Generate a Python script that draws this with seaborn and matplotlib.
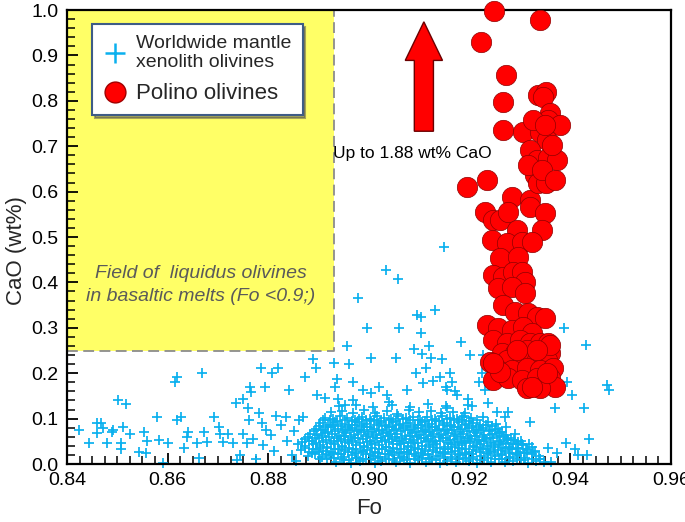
import numpy as np
import pandas as pd
import matplotlib
matplotlib.use("Agg")
import matplotlib.pyplot as plt
from matplotlib.lines import Line2D
from matplotlib.patches import Rectangle
from matplotlib.ticker import MultipleLocator, FormatStrFormatter
import seaborn as sns

# ---------------- data ----------------
xeno_sparse_x = [0.8424, 0.8444, 0.8460, 0.8468, 0.8460, 0.8472, 0.8479, 0.8489, 0.8491, 0.8501,
                 0.8517, 0.8507, 0.8507, 0.8511, 0.8525, 0.8543, 0.8553, 0.8557, 0.8559, 0.8579,
                 0.8583, 0.8591, 0.8601, 0.8615, 0.8619, 0.8619, 0.8627, 0.8632, 0.8638, 0.8640,
                 0.8658, 0.8662, 0.8668, 0.8672, 0.8678, 0.8692, 0.8702, 0.8704, 0.8710, 0.8720,
                 0.8730, 0.8736, 0.8750, 0.8750, 0.8760, 0.8764, 0.8766, 0.8762, 0.8758, 0.8738,
                 0.8744, 0.8785, 0.8807, 0.8819, 0.8782, 0.8793, 0.8835, 0.8841, 0.8869, 0.8873,
                 0.8889, 0.8895, 0.8897, 0.8913, 0.8931, 0.8933, 0.8937, 0.8939, 0.8952, 0.8956,
                 0.8960, 0.8968, 0.8968, 0.8978, 0.8988, 0.8996, 0.9004, 0.9004, 0.9020, 0.9034,
                 0.9036, 0.9040, 0.9054, 0.9058, 0.9060, 0.9076, 0.9089, 0.9093, 0.9095, 0.9103,
                 0.9103, 0.9105, 0.9107, 0.9113, 0.9119, 0.9123, 0.9127, 0.9131, 0.9141, 0.9145,
                 0.9149, 0.9153, 0.9155, 0.9155, 0.9161, 0.9165, 0.9171, 0.9175, 0.9183, 0.9185,
                 0.9197, 0.9197, 0.9201, 0.9205, 0.9219, 0.9225, 0.9227, 0.9231, 0.9237, 0.9254,
                 0.9260, 0.9270, 0.9276, 0.9276, 0.9286, 0.9296, 0.9304, 0.9314, 0.9320, 0.9324,
                 0.9340, 0.9356, 0.9362, 0.9370, 0.9374, 0.9388, 0.9392, 0.9394, 0.9404, 0.9410,
                 0.9416, 0.9427, 0.9431, 0.9433, 0.9437, 0.9473, 0.9477,
                 0.8775, 0.8790, 0.8805, 0.8812, 0.8826, 0.8838, 0.8847, 0.8851, 0.8787, 0.8770,
                 0.8815, 0.8795, 0.8860, 0.8855]
xeno_sparse_y = [0.075, 0.046, 0.090, 0.090, 0.068, 0.079, 0.046, 0.070, 0.075, 0.141,
                 0.132, 0.046, 0.033, 0.081, 0.066, 0.026, 0.070, 0.024, 0.051, 0.104,
                 0.053, 0.002, 0.046, 0.181, 0.192, 0.097, 0.104, 0.035, 0.059, 0.070,
                 0.046, 0.013, 0.200, 0.070, 0.048, 0.104, 0.081, 0.066, 0.048, 0.066,
                 0.046, 0.134, 0.143, 0.066, 0.123, 0.170, 0.159, 0.097, 0.046, 0.009,
                 0.020, 0.211, 0.200, 0.211, 0.112, 0.170, 0.104, 0.163, 0.104, 0.192,
                 0.231, 0.211, 0.152, 0.145, 0.222, 0.170, 0.187, 0.143, 0.130, 0.260,
                 0.220, 0.181, 0.141, 0.366, 0.163, 0.300, 0.233, 0.156, 0.170, 0.427,
                 0.152, 0.137, 0.233, 0.407, 0.300, 0.163, 0.253, 0.200, 0.328, 0.324,
                 0.289, 0.242, 0.178, 0.211, 0.260, 0.233, 0.183, 0.339, 0.192, 0.231,
                 0.478, 0.170, 0.163, 0.123, 0.200, 0.181, 0.161, 0.152, 0.269, 0.104,
                 0.143, 0.130, 0.240, 0.128, 0.181, 0.200, 0.240, 0.163, 0.134, 0.115,
                 0.070, 0.104, 0.115, 0.053, 0.044, 0.024, 0.044, 0.024, 0.093, 0.037,
                 0.011, 0.035, 0.004, 0.123, 0.024, 0.300, 0.046, 0.181, 0.152, 0.033,
                 0.020, 0.123, 0.262, 0.020, 0.055, 0.174, 0.163,
                 0.012, 0.041, 0.063, 0.028, 0.085, 0.050, 0.019, 0.072, 0.090, 0.055,
                 0.105, 0.075, 0.098, 0.006]

xeno_core_x = [
    0.8935, 0.8951, 0.8964, 0.8982, 0.8995, 0.9011, 0.9024, 0.9040, 0.9053, 0.9069, 0.9082, 0.9097, 0.9113, 0.9126, 0.9141,
    0.9155, 0.9172, 0.9186, 0.9199, 0.9214, 0.9229, 0.9243, 0.9258, 0.9271, 0.9287, 0.9302, 0.9316, 0.9331, 0.9347,
    0.8878, 0.8893, 0.8907, 0.8921, 0.8938, 0.8950, 0.8967, 0.8979, 0.8994, 0.9008, 0.9022, 0.9037, 0.9050, 0.9066, 0.9079,
    0.9093, 0.9108, 0.9121, 0.9137, 0.9150, 0.9164, 0.9180, 0.9193, 0.9207, 0.9222, 0.9236, 0.9251, 0.9264, 0.9280, 0.9294,
    0.9309, 0.9323, 0.9338,
    0.8865, 0.8881, 0.8896, 0.8909, 0.8924, 0.8940, 0.8953, 0.8968, 0.8984, 0.8997, 0.9012, 0.9026, 0.9041, 0.9055, 0.9070,
    0.9084, 0.9098, 0.9112, 0.9128, 0.9141, 0.9156, 0.9170, 0.9185, 0.9198, 0.9213, 0.9227, 0.9241, 0.9256, 0.9270, 0.9285,
    0.9299, 0.9314, 0.9330,
    0.8858, 0.8873, 0.8889, 0.8902, 0.8917, 0.8931, 0.8946, 0.8961, 0.8975, 0.8990, 0.9004, 0.9019, 0.9033, 0.9047, 0.9062,
    0.9077, 0.9090, 0.9105, 0.9119, 0.9134, 0.9148, 0.9163, 0.9177, 0.9191, 0.9206, 0.9220, 0.9235, 0.9249, 0.9263, 0.9278,
    0.9292, 0.9305, 0.9318,
    0.8872, 0.8887, 0.8901, 0.8915, 0.8930, 0.8944, 0.8959, 0.8973, 0.8988, 0.9002, 0.9016, 0.9031, 0.9045, 0.9060, 0.9074,
    0.9088, 0.9103, 0.9117, 0.9131, 0.9146, 0.9160, 0.9175, 0.9189, 0.9203, 0.9218, 0.9232, 0.9246, 0.9261, 0.9275, 0.9289,
    0.9302,
    0.8883, 0.8897, 0.8912, 0.8926, 0.8941, 0.8955, 0.8970, 0.8984, 0.8998, 0.9013, 0.9027, 0.9042, 0.9056, 0.9071, 0.9085,
    0.9099, 0.9114, 0.9128, 0.9143, 0.9157, 0.9171, 0.9186, 0.9200, 0.9215, 0.9229, 0.9244, 0.9258, 0.9272, 0.9290,
    0.8895, 0.8909, 0.8924, 0.8938, 0.8953, 0.8967, 0.8981, 0.8996, 0.9010, 0.9025, 0.9039, 0.9053, 0.9068, 0.9082, 0.9097,
    0.9111, 0.9126, 0.9140, 0.9154, 0.9169, 0.9183, 0.9198, 0.9212, 0.9226, 0.9241, 0.9256, 0.9272,
    0.8903, 0.8918, 0.8932, 0.8947, 0.8961, 0.8976, 0.8990, 0.9004, 0.9019, 0.9033, 0.9048, 0.9062, 0.9077, 0.9091, 0.9105,
    0.9120, 0.9134, 0.9149, 0.9163, 0.9178, 0.9192, 0.9207, 0.9221, 0.9236, 0.9252,
    0.8912, 0.8928, 0.8943, 0.8957, 0.8972, 0.8986, 0.9001, 0.9015, 0.9029, 0.9044, 0.9058, 0.9073, 0.9087, 0.9102, 0.9116,
    0.9131, 0.9145, 0.9160, 0.9174, 0.9188, 0.9203, 0.9226,
    0.8925, 0.8947, 0.8968, 0.8991, 0.9012, 0.9035, 0.9056, 0.9079, 0.9100, 0.9123, 0.9144, 0.9167, 0.9190,
    0.8940, 0.8975, 0.9008, 0.9046, 0.9081, 0.9117, 0.9152]
xeno_core_y = [
    0.004, 0.009, 0.003, 0.007, 0.011, 0.002, 0.006, 0.010, 0.004, 0.008, 0.003, 0.009, 0.005, 0.011, 0.002,
    0.007, 0.004, 0.010, 0.006, 0.003, 0.008, 0.005, 0.010, 0.004, 0.007, 0.009, 0.003, 0.006, 0.005,
    0.017, 0.021, 0.015, 0.019, 0.023, 0.016, 0.020, 0.014, 0.022, 0.018, 0.016, 0.021, 0.019, 0.015, 0.023,
    0.017, 0.020, 0.014, 0.018, 0.022, 0.016, 0.019, 0.021, 0.015, 0.018, 0.023, 0.017, 0.020, 0.016, 0.019,
    0.014, 0.021, 0.018,
    0.031, 0.027, 0.033, 0.029, 0.026, 0.032, 0.030, 0.034, 0.028, 0.031, 0.026, 0.033, 0.029, 0.032, 0.027,
    0.030, 0.034, 0.028, 0.031, 0.026, 0.033, 0.029, 0.032, 0.027, 0.030, 0.034, 0.028, 0.031, 0.029, 0.033,
    0.027, 0.030, 0.028,
    0.043, 0.039, 0.045, 0.041, 0.038, 0.044, 0.040, 0.046, 0.042, 0.039, 0.045, 0.041, 0.038, 0.044, 0.043,
    0.039, 0.046, 0.040, 0.042, 0.045, 0.038, 0.043, 0.041, 0.046, 0.039, 0.044, 0.040, 0.042, 0.045, 0.038,
    0.043, 0.041, 0.044,
    0.054, 0.051, 0.057, 0.053, 0.050, 0.056, 0.052, 0.058, 0.054, 0.051, 0.057, 0.053, 0.055, 0.050, 0.056,
    0.052, 0.058, 0.054, 0.051, 0.057, 0.053, 0.055, 0.050, 0.056, 0.052, 0.054, 0.057, 0.051, 0.055, 0.053,
    0.050,
    0.066, 0.063, 0.069, 0.065, 0.062, 0.068, 0.064, 0.070, 0.066, 0.063, 0.069, 0.065, 0.067, 0.062, 0.068,
    0.064, 0.070, 0.066, 0.063, 0.069, 0.065, 0.067, 0.062, 0.068, 0.064, 0.066, 0.069, 0.063, 0.065,
    0.078, 0.075, 0.081, 0.077, 0.074, 0.080, 0.076, 0.082, 0.078, 0.075, 0.081, 0.077, 0.079, 0.074, 0.080,
    0.076, 0.082, 0.078, 0.075, 0.081, 0.077, 0.079, 0.074, 0.080, 0.076, 0.078, 0.081,
    0.090, 0.087, 0.093, 0.089, 0.086, 0.092, 0.088, 0.094, 0.090, 0.087, 0.093, 0.089, 0.091, 0.086, 0.092,
    0.088, 0.094, 0.090, 0.087, 0.093, 0.089, 0.091, 0.086, 0.092, 0.088,
    0.102, 0.099, 0.105, 0.101, 0.098, 0.104, 0.100, 0.106, 0.102, 0.099, 0.105, 0.101, 0.103, 0.098, 0.104,
    0.100, 0.106, 0.102, 0.099, 0.105, 0.101, 0.103,
    0.114, 0.117, 0.112, 0.118, 0.113, 0.116, 0.111, 0.119, 0.114, 0.117, 0.112, 0.115, 0.113,
    0.127, 0.131, 0.125, 0.129, 0.126, 0.132, 0.128]

xeno_fill_x = [
    0.8902, 0.8917, 0.8931, 0.8946, 0.8960, 0.8975, 0.8989, 0.9004, 0.9018, 0.9033, 0.9047, 0.9062, 0.9076, 0.9091, 0.9105,
    0.9120, 0.9134, 0.9149, 0.9163, 0.9178, 0.9192, 0.9207, 0.9221, 0.9236, 0.9250, 0.9265, 0.9279, 0.9294, 0.9308, 0.9323,
    0.9339,
    0.8886, 0.8900, 0.8915, 0.8929, 0.8944, 0.8958, 0.8973, 0.8988, 0.9002, 0.9017, 0.9031, 0.9046, 0.9060, 0.9075, 0.9089,
    0.9104, 0.9118, 0.9133, 0.9147, 0.9162, 0.9176, 0.9191, 0.9205, 0.9220, 0.9234, 0.9249, 0.9263, 0.9278, 0.9292, 0.9307,
    0.9326,
    0.8872, 0.8888, 0.8903, 0.8917, 0.8932, 0.8946, 0.8961, 0.8975, 0.8990, 0.9005, 0.9019, 0.9034, 0.9048, 0.9063, 0.9077,
    0.9092, 0.9106, 0.9121, 0.9135, 0.9150, 0.9164, 0.9179, 0.9193, 0.9208, 0.9222, 0.9237, 0.9251, 0.9266, 0.9280, 0.9296,
    0.9312,
    0.8866, 0.8880, 0.8895, 0.8909, 0.8924, 0.8938, 0.8953, 0.8967, 0.8982, 0.8996, 0.9011, 0.9026, 0.9040, 0.9055, 0.9069,
    0.9084, 0.9098, 0.9113, 0.9127, 0.9142, 0.9156, 0.9171, 0.9185, 0.9200, 0.9214, 0.9229, 0.9243, 0.9258, 0.9272, 0.9296,
    0.8878, 0.8892, 0.8907, 0.8921, 0.8936, 0.8950, 0.8965, 0.8979, 0.8994, 0.9008, 0.9023, 0.9037, 0.9052, 0.9066, 0.9081,
    0.9095, 0.9110, 0.9124, 0.9139, 0.9153, 0.9168, 0.9182, 0.9197, 0.9211, 0.9226, 0.9240, 0.9255, 0.9268, 0.9282,
    0.8890, 0.8904, 0.8919, 0.8933, 0.8948, 0.8962, 0.8977, 0.8991, 0.9006, 0.9020, 0.9035, 0.9049, 0.9064, 0.9078, 0.9093,
    0.9107, 0.9122, 0.9136, 0.9151, 0.9165, 0.9180, 0.9194, 0.9209, 0.9223, 0.9238, 0.9250, 0.9264,
    0.8900, 0.8915, 0.8929, 0.8944, 0.8958, 0.8973, 0.8987, 0.9002, 0.9016, 0.9031, 0.9045, 0.9060, 0.9074, 0.9089, 0.9103,
    0.9118, 0.9132, 0.9147, 0.9161, 0.9176, 0.9190, 0.9205, 0.9219, 0.9232, 0.9245,
    0.8908, 0.8923, 0.8937, 0.8952, 0.8966, 0.8981, 0.8995, 0.9010, 0.9024, 0.9039, 0.9053, 0.9068, 0.9082, 0.9097, 0.9111,
    0.9126, 0.9140, 0.9155, 0.9169, 0.9184, 0.9198, 0.9215]
xeno_fill_y = [
    0.012, 0.010, 0.013, 0.011, 0.009, 0.014, 0.012, 0.010, 0.013, 0.011, 0.009, 0.014, 0.012, 0.010, 0.013,
    0.011, 0.009, 0.014, 0.012, 0.010, 0.013, 0.011, 0.009, 0.014, 0.012, 0.010, 0.013, 0.011, 0.009, 0.012,
    0.010,
    0.024, 0.026, 0.023, 0.025, 0.022, 0.027, 0.024, 0.026, 0.023, 0.025, 0.022, 0.027, 0.024, 0.026, 0.023,
    0.025, 0.022, 0.027, 0.024, 0.026, 0.023, 0.025, 0.022, 0.027, 0.024, 0.026, 0.023, 0.025, 0.022, 0.024,
    0.026,
    0.036, 0.034, 0.037, 0.035, 0.033, 0.038, 0.036, 0.034, 0.037, 0.035, 0.033, 0.038, 0.036, 0.034, 0.037,
    0.035, 0.033, 0.038, 0.036, 0.034, 0.037, 0.035, 0.033, 0.038, 0.036, 0.034, 0.037, 0.035, 0.033, 0.036,
    0.034,
    0.048, 0.050, 0.047, 0.049, 0.046, 0.051, 0.048, 0.050, 0.047, 0.049, 0.046, 0.051, 0.048, 0.050, 0.047,
    0.049, 0.046, 0.051, 0.048, 0.050, 0.047, 0.049, 0.046, 0.051, 0.048, 0.050, 0.047, 0.049, 0.046, 0.048,
    0.060, 0.058, 0.061, 0.059, 0.057, 0.062, 0.060, 0.058, 0.061, 0.059, 0.057, 0.062, 0.060, 0.058, 0.061,
    0.059, 0.057, 0.062, 0.060, 0.058, 0.061, 0.059, 0.057, 0.062, 0.060, 0.058, 0.061, 0.059, 0.057,
    0.072, 0.074, 0.071, 0.073, 0.070, 0.075, 0.072, 0.074, 0.071, 0.073, 0.070, 0.075, 0.072, 0.074, 0.071,
    0.073, 0.070, 0.075, 0.072, 0.074, 0.071, 0.073, 0.070, 0.075, 0.072, 0.074, 0.071,
    0.084, 0.082, 0.085, 0.083, 0.081, 0.086, 0.084, 0.082, 0.085, 0.083, 0.081, 0.086, 0.084, 0.082, 0.085,
    0.083, 0.081, 0.086, 0.084, 0.082, 0.085, 0.083, 0.081, 0.086, 0.084,
    0.096, 0.098, 0.095, 0.097, 0.094, 0.099, 0.096, 0.098, 0.095, 0.097, 0.094, 0.099, 0.096, 0.098, 0.095,
    0.097, 0.094, 0.099, 0.096, 0.098, 0.095, 0.097]

polino_x = [0.9248, 0.9340, 0.9223, 0.9272, 0.9266, 0.9266, 0.9306, 0.9195, 0.9235, 0.9336,
            0.9352, 0.9346, 0.9360, 0.9356, 0.9380, 0.9340, 0.9354, 0.9320, 0.9334, 0.9356,
            0.9374, 0.9330, 0.9354, 0.9284, 0.9320, 0.9336, 0.9352, 0.9316, 0.9364, 0.9344,
            0.9370, 0.9326, 0.9350, 0.9231, 0.9246, 0.9260, 0.9276, 0.9320, 0.9350, 0.9294,
            0.9344, 0.9244, 0.9274, 0.9304, 0.9324, 0.9260, 0.9296, 0.9246, 0.9266, 0.9286,
            0.9304, 0.9310, 0.9256, 0.9284, 0.9310, 0.9266, 0.9290, 0.9316, 0.9334, 0.9350,
            0.9234, 0.9256, 0.9284, 0.9306, 0.9324, 0.9246, 0.9274, 0.9300, 0.9320, 0.9340,
            0.9356, 0.9264, 0.9290, 0.9314, 0.9340, 0.9360, 0.9240, 0.9274, 0.9306, 0.9334,
            0.9354, 0.9256, 0.9284, 0.9314, 0.9340, 0.9366, 0.9246, 0.9276, 0.9304, 0.9334,
            0.9360, 0.9370, 0.9314, 0.9340, 0.9324, 0.9354, 0.9360, 0.9334, 0.9294, 0.9260,
            0.9246]
polino_y = [0.997, 0.978, 0.930, 0.857, 0.797, 0.736, 0.731, 0.610, 0.626, 0.813,
            0.819, 0.808, 0.773, 0.758, 0.747, 0.731, 0.714, 0.692, 0.670, 0.674,
            0.670, 0.637, 0.626, 0.588, 0.581, 0.619, 0.619, 0.659, 0.703, 0.648,
            0.626, 0.758, 0.747, 0.555, 0.537, 0.537, 0.555, 0.566, 0.553, 0.515,
            0.515, 0.493, 0.487, 0.489, 0.489, 0.454, 0.456, 0.416, 0.412, 0.423,
            0.423, 0.401, 0.388, 0.390, 0.377, 0.350, 0.335, 0.333, 0.324, 0.322,
            0.306, 0.300, 0.295, 0.302, 0.289, 0.273, 0.267, 0.273, 0.267, 0.267,
            0.267, 0.244, 0.244, 0.251, 0.244, 0.244, 0.225, 0.229, 0.225, 0.229,
            0.229, 0.207, 0.207, 0.211, 0.207, 0.211, 0.185, 0.189, 0.185, 0.189,
            0.189, 0.170, 0.167, 0.167, 0.170, 0.200, 0.262, 0.251, 0.251, 0.203,
            0.222]

x_ticks = [0.84, 0.86, 0.88, 0.90, 0.92, 0.94, 0.96]
y_ticks = [0.0, 0.1, 0.2, 0.3, 0.4, 0.5, 0.6, 0.7, 0.8, 0.9, 1.0]

field_fo_max = 0.893
field_cao_min = 0.25
arrow_fo = 0.9109
arrow_cao_base = 0.733
arrow_cao_tip = 0.974

# ---------------- style ----------------
sns.set_style("ticks")
plt.rcParams['font.family'] = ['Liberation Sans', 'DejaVu Sans']

BLUE = "#0AB0EE"
RED = "#FF0000"

fig = plt.figure(figsize=(6.85, 5.22), dpi=100)
ax = fig.add_axes([0.0978, 0.1111, 0.8818, 0.8697])

# yellow field
ax.add_patch(Rectangle((0.84, field_cao_min), field_fo_max - 0.84, 1.0 - field_cao_min,
                       facecolor="#FFFF66", edgecolor="none", zorder=0))
ax.plot([0.84, field_fo_max, field_fo_max], [field_cao_min, field_cao_min, 1.0],
        color="#8C8C8C", lw=1.3, ls=(0, (6, 3)), zorder=0.5)

xeno = pd.DataFrame({"Fo": xeno_sparse_x + xeno_core_x + xeno_fill_x,
                     "CaO": xeno_sparse_y + xeno_core_y + xeno_fill_y})
pol = pd.DataFrame({"Fo": polino_x, "CaO": polino_y})

sns.scatterplot(data=xeno, x="Fo", y="CaO", marker="+", color=BLUE, s=50,
                linewidth=1.25, ax=ax, zorder=2, clip_on=False)
sns.scatterplot(data=pol, x="Fo", y="CaO", marker="o", color=RED, s=215,
                edgecolor="#8E0000", linewidth=0.5, ax=ax, zorder=3, clip_on=False)

# arrow
ax.arrow(arrow_fo, arrow_cao_base, 0, arrow_cao_tip - arrow_cao_base,
         width=0.0038, head_width=0.0074, head_length=0.085, length_includes_head=True,
         facecolor=RED, edgecolor="#6B0000", linewidth=1.0, zorder=4)

ax.text(0.8929, 0.685, "Up to 1.88 wt% CaO", fontsize=12.5, ha="left", va="center", color="black")
ax.text(0.8665, 0.395, "Field of  liquidus olivines\nin basaltic melts (Fo <0.9;)",
        fontsize=14, style="italic", color="#5A5A5A", ha="center", va="center", linespacing=1.45)

ax.set_xlim(0.84, 0.96)
ax.set_ylim(0.0, 1.0)
ax.set_xticks(x_ticks)
ax.set_yticks(y_ticks)
ax.xaxis.set_major_formatter(FormatStrFormatter("%.2f"))
ax.yaxis.set_major_formatter(FormatStrFormatter("%.1f"))
ax.xaxis.set_minor_locator(MultipleLocator(0.0025))
ax.yaxis.set_minor_locator(MultipleLocator(0.02))
ax.tick_params(axis="both", which="both", direction="in", top=False, right=False,
               labelsize=14, colors="black")
ax.tick_params(which="major", length=8, width=1.3, pad=6)
ax.tick_params(which="minor", length=6, width=1.1)
for sp in ax.spines.values():
    sp.set_visible(True)
    sp.set_linewidth(1.6)
    sp.set_color("black")
    sp.set_zorder(2.5)

ax.set_xlabel("Fo", fontsize=16, labelpad=6)
ax.set_ylabel("CaO (wt%)", fontsize=16)
ax.yaxis.set_label_coords(-0.066, 0.47)

handles = [Line2D([], [], marker="+", ls="", color=BLUE, markersize=15, mew=1.8),
           Line2D([], [], marker="o", ls="", color=RED, markeredgecolor="#A00000",
                  markersize=15)]
leg = ax.legend(handles, ["Worldwide mantle\nxenolith olivines", "Polino olivines"],
                loc="upper left", bbox_to_anchor=(0.041, 0.969), borderaxespad=0,
                frameon=True, fancybox=False, shadow=True, fontsize=14,
                borderpad=0.55, labelspacing=0.6, handletextpad=0.45, handlelength=1.3)
leg.get_frame().set_edgecolor("#3E5C86")
leg.get_frame().set_linewidth(1.5)
leg.get_frame().set_alpha(1)
leg.get_texts()[1].set_fontsize(16)
leg.set_zorder(5)

fig.savefig("out.png", dpi=100)
